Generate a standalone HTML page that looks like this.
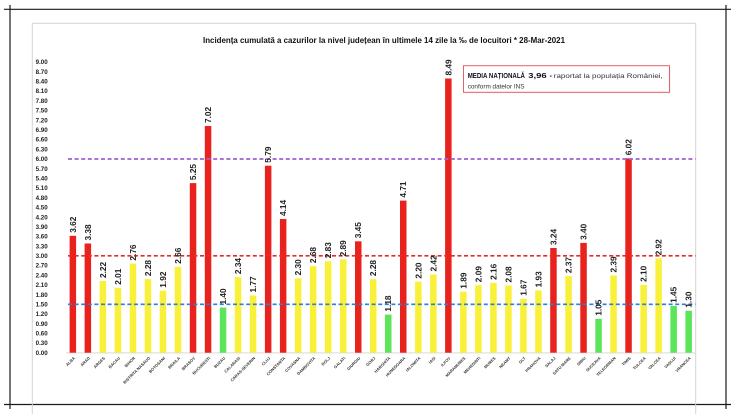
<!DOCTYPE html>
<html><head><meta charset="utf-8"><style>
html,body{margin:0;padding:0;background:#fff;}
svg{display:block;}
text{font-family:"Liberation Sans",sans-serif;}
.yl{font-size:6.2px;font-weight:bold;fill:#222;text-anchor:end;}
.vl{font-size:8.3px;font-weight:bold;fill:#222;}
.xl{font-size:4px;font-weight:bold;fill:#333;text-anchor:end;}
.r{fill:#e8221d;}.y{fill:#f9f03a;}.g{fill:#5ce45a;}
</style></head><body>
<svg width="735" height="414" viewBox="0 0 735 414" xmlns="http://www.w3.org/2000/svg">
<rect width="735" height="414" fill="#fff"/>
<!-- frame lines -->
<line x1="4" y1="9.3" x2="731" y2="9.3" stroke="#1a1a1a" stroke-width="1.2"/>
<line x1="4" y1="404.5" x2="731" y2="404.5" stroke="#1a1a1a" stroke-width="1.2"/>
<line x1="10" y1="5" x2="10" y2="409" stroke="#1a1a1a" stroke-width="1.2"/>
<line x1="726" y1="5" x2="726" y2="409" stroke="#1a1a1a" stroke-width="1.2"/>
<!-- chart area -->
<rect x="32.3" y="23.3" width="663.4" height="400" fill="none" stroke="#d4d4d4" stroke-width="1"/>
<text x="203" y="43" font-size="8.5" font-weight="bold" fill="#111" textLength="362" lengthAdjust="spacingAndGlyphs">Incidența cumulată a cazurilor la nivel județean în ultimele 14 zile la ‰ de locuitori * 28-Mar-2021</text>
<!-- y labels -->
<g class="yl">
<text x="47.7" y="354.9">0.00</text><text x="47.7" y="345.2">0.30</text><text x="47.7" y="335.5">0.60</text><text x="47.7" y="325.8">0.90</text><text x="47.7" y="316.2">1.20</text><text x="47.7" y="306.5">1.50</text><text x="47.7" y="296.8">1.80</text><text x="47.7" y="287.1">2.10</text><text x="47.7" y="277.4">2.40</text><text x="47.7" y="267.7">2.70</text><text x="47.7" y="258.0">3.00</text><text x="47.7" y="248.3">3.30</text><text x="47.7" y="238.6">3.60</text><text x="47.7" y="228.9">3.90</text><text x="47.7" y="219.3">4.20</text><text x="47.7" y="209.6">4.50</text><text x="47.7" y="199.9">4.80</text><text x="47.7" y="190.2">5.10</text><text x="47.7" y="180.5">5.40</text><text x="47.7" y="170.8">5.70</text><text x="47.7" y="161.1">6.00</text><text x="47.7" y="151.4">6.30</text><text x="47.7" y="141.7">6.60</text><text x="47.7" y="132.0">6.90</text><text x="47.7" y="122.3">7.20</text><text x="47.7" y="112.6">7.50</text><text x="47.7" y="102.9">7.80</text><text x="47.7" y="93.2">8.10</text><text x="47.7" y="83.5">8.40</text><text x="47.7" y="73.8">8.70</text><text x="47.7" y="64.1">9.00</text>
</g>
<!-- axis line -->
<line x1="66" y1="352.9" x2="695.7" y2="352.9" stroke="#d9d9d9" stroke-width="1"/>
<!-- bars -->
<g>
<rect class="r" x="69.6" y="235.8" width="6.5" height="116.9"/>
<rect class="r" x="84.6" y="243.5" width="6.5" height="109.2"/>
<rect class="y" x="99.6" y="281.0" width="6.5" height="71.7"/>
<rect class="y" x="114.7" y="287.8" width="6.5" height="64.9"/>
<rect class="y" x="129.7" y="263.6" width="6.5" height="89.1"/>
<rect class="y" x="144.7" y="279.1" width="6.5" height="73.6"/>
<rect class="y" x="159.7" y="290.7" width="6.5" height="62.0"/>
<rect class="y" x="174.7" y="266.8" width="6.5" height="85.9"/>
<rect class="r" x="189.8" y="183.1" width="6.5" height="169.6"/>
<rect class="r" x="204.8" y="126.0" width="6.5" height="226.7"/>
<rect class="g" x="219.8" y="307.5" width="6.5" height="45.2"/>
<rect class="y" x="234.8" y="277.1" width="6.5" height="75.6"/>
<rect class="y" x="249.8" y="295.5" width="6.5" height="57.2"/>
<rect class="r" x="264.9" y="165.7" width="6.5" height="187.0"/>
<rect class="r" x="279.9" y="219.0" width="6.5" height="133.7"/>
<rect class="y" x="294.9" y="278.4" width="6.5" height="74.3"/>
<rect class="y" x="309.9" y="266.1" width="6.5" height="86.6"/>
<rect class="y" x="324.9" y="261.3" width="6.5" height="91.4"/>
<rect class="y" x="340.0" y="259.4" width="6.5" height="93.3"/>
<rect class="r" x="355.0" y="241.3" width="6.5" height="111.4"/>
<rect class="y" x="370.0" y="279.1" width="6.5" height="73.6"/>
<rect class="g" x="385.0" y="314.6" width="6.5" height="38.1"/>
<rect class="r" x="400.0" y="200.6" width="6.5" height="152.1"/>
<rect class="y" x="415.1" y="281.6" width="6.5" height="71.1"/>
<rect class="y" x="430.1" y="274.5" width="6.5" height="78.2"/>
<rect class="r" x="445.1" y="78.5" width="6.5" height="274.2"/>
<rect class="y" x="460.1" y="291.7" width="6.5" height="61.0"/>
<rect class="y" x="475.1" y="285.2" width="6.5" height="67.5"/>
<rect class="y" x="490.2" y="282.9" width="6.5" height="69.8"/>
<rect class="y" x="505.2" y="285.5" width="6.5" height="67.2"/>
<rect class="y" x="520.2" y="298.8" width="6.5" height="53.9"/>
<rect class="y" x="535.2" y="290.4" width="6.5" height="62.3"/>
<rect class="r" x="550.2" y="248.0" width="6.5" height="104.7"/>
<rect class="y" x="565.3" y="276.1" width="6.5" height="76.6"/>
<rect class="r" x="580.3" y="242.9" width="6.5" height="109.8"/>
<rect class="g" x="595.3" y="318.8" width="6.5" height="33.9"/>
<rect class="y" x="610.3" y="275.5" width="6.5" height="77.2"/>
<rect class="r" x="625.3" y="158.3" width="6.5" height="194.4"/>
<rect class="y" x="640.4" y="284.9" width="6.5" height="67.8"/>
<rect class="y" x="655.4" y="258.4" width="6.5" height="94.3"/>
<rect class="g" x="670.4" y="305.9" width="6.5" height="46.8"/>
<rect class="g" x="685.4" y="310.7" width="6.5" height="42.0"/>
</g>
<!-- dashed reference lines -->
<line x1="68" y1="159" x2="695.5" y2="159" stroke="#9c62d2" stroke-width="1.7" stroke-dasharray="4 2.6"/>
<line x1="68" y1="255.8" x2="695.5" y2="255.8" stroke="#e82a2a" stroke-width="1.7" stroke-dasharray="4 2.6"/>
<line x1="68" y1="304.3" x2="695.5" y2="304.3" stroke="#2a7fe0" stroke-width="1.7" stroke-dasharray="4 2.6"/>
<!-- value labels -->
<g class="vl">
<text transform="translate(75.8,232.8) rotate(-90)">3.62</text>
<text transform="translate(90.8,240.5) rotate(-90)">3.38</text>
<text transform="translate(105.8,278.0) rotate(-90)">2.22</text>
<text transform="translate(120.9,284.8) rotate(-90)">2.01</text>
<text transform="translate(135.9,260.6) rotate(-90)">2.76</text>
<text transform="translate(150.9,276.1) rotate(-90)">2.28</text>
<text transform="translate(165.9,287.7) rotate(-90)">1.92</text>
<text transform="translate(180.9,263.8) rotate(-90)">2.66</text>
<text transform="translate(196.0,180.1) rotate(-90)">5.25</text>
<text transform="translate(211.0,123.0) rotate(-90)">7.02</text>
<text transform="translate(226.0,304.5) rotate(-90)">1.40</text>
<text transform="translate(241.0,274.1) rotate(-90)">2.34</text>
<text transform="translate(256.0,292.5) rotate(-90)">1.77</text>
<text transform="translate(271.1,162.7) rotate(-90)">5.79</text>
<text transform="translate(286.1,216.0) rotate(-90)">4.14</text>
<text transform="translate(301.1,275.4) rotate(-90)">2.30</text>
<text transform="translate(316.1,263.1) rotate(-90)">2.68</text>
<text transform="translate(331.1,258.3) rotate(-90)">2.83</text>
<text transform="translate(346.2,256.4) rotate(-90)">2.89</text>
<text transform="translate(361.2,238.3) rotate(-90)">3.45</text>
<text transform="translate(376.2,276.1) rotate(-90)">2.28</text>
<text transform="translate(391.2,311.6) rotate(-90)">1.18</text>
<text transform="translate(406.2,197.6) rotate(-90)">4.71</text>
<text transform="translate(421.3,278.6) rotate(-90)">2.20</text>
<text transform="translate(436.3,271.5) rotate(-90)">2.42</text>
<text transform="translate(451.3,75.5) rotate(-90)">8.49</text>
<text transform="translate(466.3,288.7) rotate(-90)">1.89</text>
<text transform="translate(481.3,282.2) rotate(-90)">2.09</text>
<text transform="translate(496.4,279.9) rotate(-90)">2.16</text>
<text transform="translate(511.4,282.5) rotate(-90)">2.08</text>
<text transform="translate(526.4,295.8) rotate(-90)">1.67</text>
<text transform="translate(541.4,287.4) rotate(-90)">1.93</text>
<text transform="translate(556.4,245.0) rotate(-90)">3.24</text>
<text transform="translate(571.5,273.1) rotate(-90)">2.37</text>
<text transform="translate(586.5,239.9) rotate(-90)">3.40</text>
<text transform="translate(601.5,315.8) rotate(-90)">1.05</text>
<text transform="translate(616.5,272.5) rotate(-90)">2.39</text>
<text transform="translate(631.5,155.3) rotate(-90)">6.02</text>
<text transform="translate(646.6,281.9) rotate(-90)">2.10</text>
<text transform="translate(661.6,255.4) rotate(-90)">2.92</text>
<text transform="translate(676.6,302.9) rotate(-90)">1.45</text>
<text transform="translate(691.6,307.7) rotate(-90)">1.30</text>
</g>
<!-- x labels -->
<g class="xl">
<text transform="translate(75.3,358.5) rotate(-45)">ALBA</text>
<text transform="translate(90.3,358.5) rotate(-45)">ARAD</text>
<text transform="translate(105.3,358.5) rotate(-45)">ARGES</text>
<text transform="translate(120.4,358.5) rotate(-45)">BACAU</text>
<text transform="translate(135.4,358.5) rotate(-45)">BIHOR</text>
<text transform="translate(150.4,358.5) rotate(-45)">BISTRITA NASAUD</text>
<text transform="translate(165.4,358.5) rotate(-45)">BOTOSANI</text>
<text transform="translate(180.4,358.5) rotate(-45)">BRAILA</text>
<text transform="translate(195.5,358.5) rotate(-45)">BRASOV</text>
<text transform="translate(210.5,358.5) rotate(-45)">BUCURESTI</text>
<text transform="translate(225.5,358.5) rotate(-45)">BUZAU</text>
<text transform="translate(240.5,358.5) rotate(-45)">CALARASI</text>
<text transform="translate(255.5,358.5) rotate(-45)">CARAS-SEVERIN</text>
<text transform="translate(270.6,358.5) rotate(-45)">CLUJ</text>
<text transform="translate(285.6,358.5) rotate(-45)">CONSTANTA</text>
<text transform="translate(300.6,358.5) rotate(-45)">COVASNA</text>
<text transform="translate(315.6,358.5) rotate(-45)">DAMBOVITA</text>
<text transform="translate(330.6,358.5) rotate(-45)">DOLJ</text>
<text transform="translate(345.7,358.5) rotate(-45)">GALATI</text>
<text transform="translate(360.7,358.5) rotate(-45)">GIURGIU</text>
<text transform="translate(375.7,358.5) rotate(-45)">GORJ</text>
<text transform="translate(390.7,358.5) rotate(-45)">HARGHITA</text>
<text transform="translate(405.7,358.5) rotate(-45)">HUNEDOARA</text>
<text transform="translate(420.8,358.5) rotate(-45)">IALOMITA</text>
<text transform="translate(435.8,358.5) rotate(-45)">IASI</text>
<text transform="translate(450.8,358.5) rotate(-45)">ILFOV</text>
<text transform="translate(465.8,358.5) rotate(-45)">MARAMURES</text>
<text transform="translate(480.8,358.5) rotate(-45)">MEHEDINTI</text>
<text transform="translate(495.9,358.5) rotate(-45)">MURES</text>
<text transform="translate(510.9,358.5) rotate(-45)">NEAMT</text>
<text transform="translate(525.9,358.5) rotate(-45)">OLT</text>
<text transform="translate(540.9,358.5) rotate(-45)">PRAHOVA</text>
<text transform="translate(555.9,358.5) rotate(-45)">SALAJ</text>
<text transform="translate(571.0,358.5) rotate(-45)">SATU MARE</text>
<text transform="translate(586.0,358.5) rotate(-45)">SIBIU</text>
<text transform="translate(601.0,358.5) rotate(-45)">SUCEAVA</text>
<text transform="translate(616.0,358.5) rotate(-45)">TELEORMAN</text>
<text transform="translate(631.0,358.5) rotate(-45)">TIMIS</text>
<text transform="translate(646.1,358.5) rotate(-45)">TULCEA</text>
<text transform="translate(661.1,358.5) rotate(-45)">VALCEA</text>
<text transform="translate(676.1,358.5) rotate(-45)">VASLUI</text>
<text transform="translate(691.1,358.5) rotate(-45)">VRANCEA</text>
</g>
<!-- annotation box -->
<rect x="464.5" y="66.7" width="206" height="26.6" fill="#ccc" opacity="0.35"/>
<rect x="463.5" y="65.7" width="206" height="26.6" fill="#fff" stroke="#e06666" stroke-width="1"/>
<text y="78.2" fill="#111">
<tspan x="467.7" font-size="7.6" font-weight="bold" textLength="57.3" lengthAdjust="spacingAndGlyphs">MEDIA NAȚIONALĂ</tspan>
<tspan x="528.3" font-size="7.6" font-weight="bold" textLength="18.4" lengthAdjust="spacingAndGlyphs">3,96</tspan>
<tspan x="549.5" font-size="7.6" font-weight="bold">-</tspan>
<tspan x="553.8" font-size="6.4" fill="#333" textLength="109" lengthAdjust="spacingAndGlyphs">raportat la populația României,</tspan>
</text>
<text x="467.7" y="88.5" font-size="6.4" fill="#333">conform datelor INS</text>
</svg>
</body></html>
